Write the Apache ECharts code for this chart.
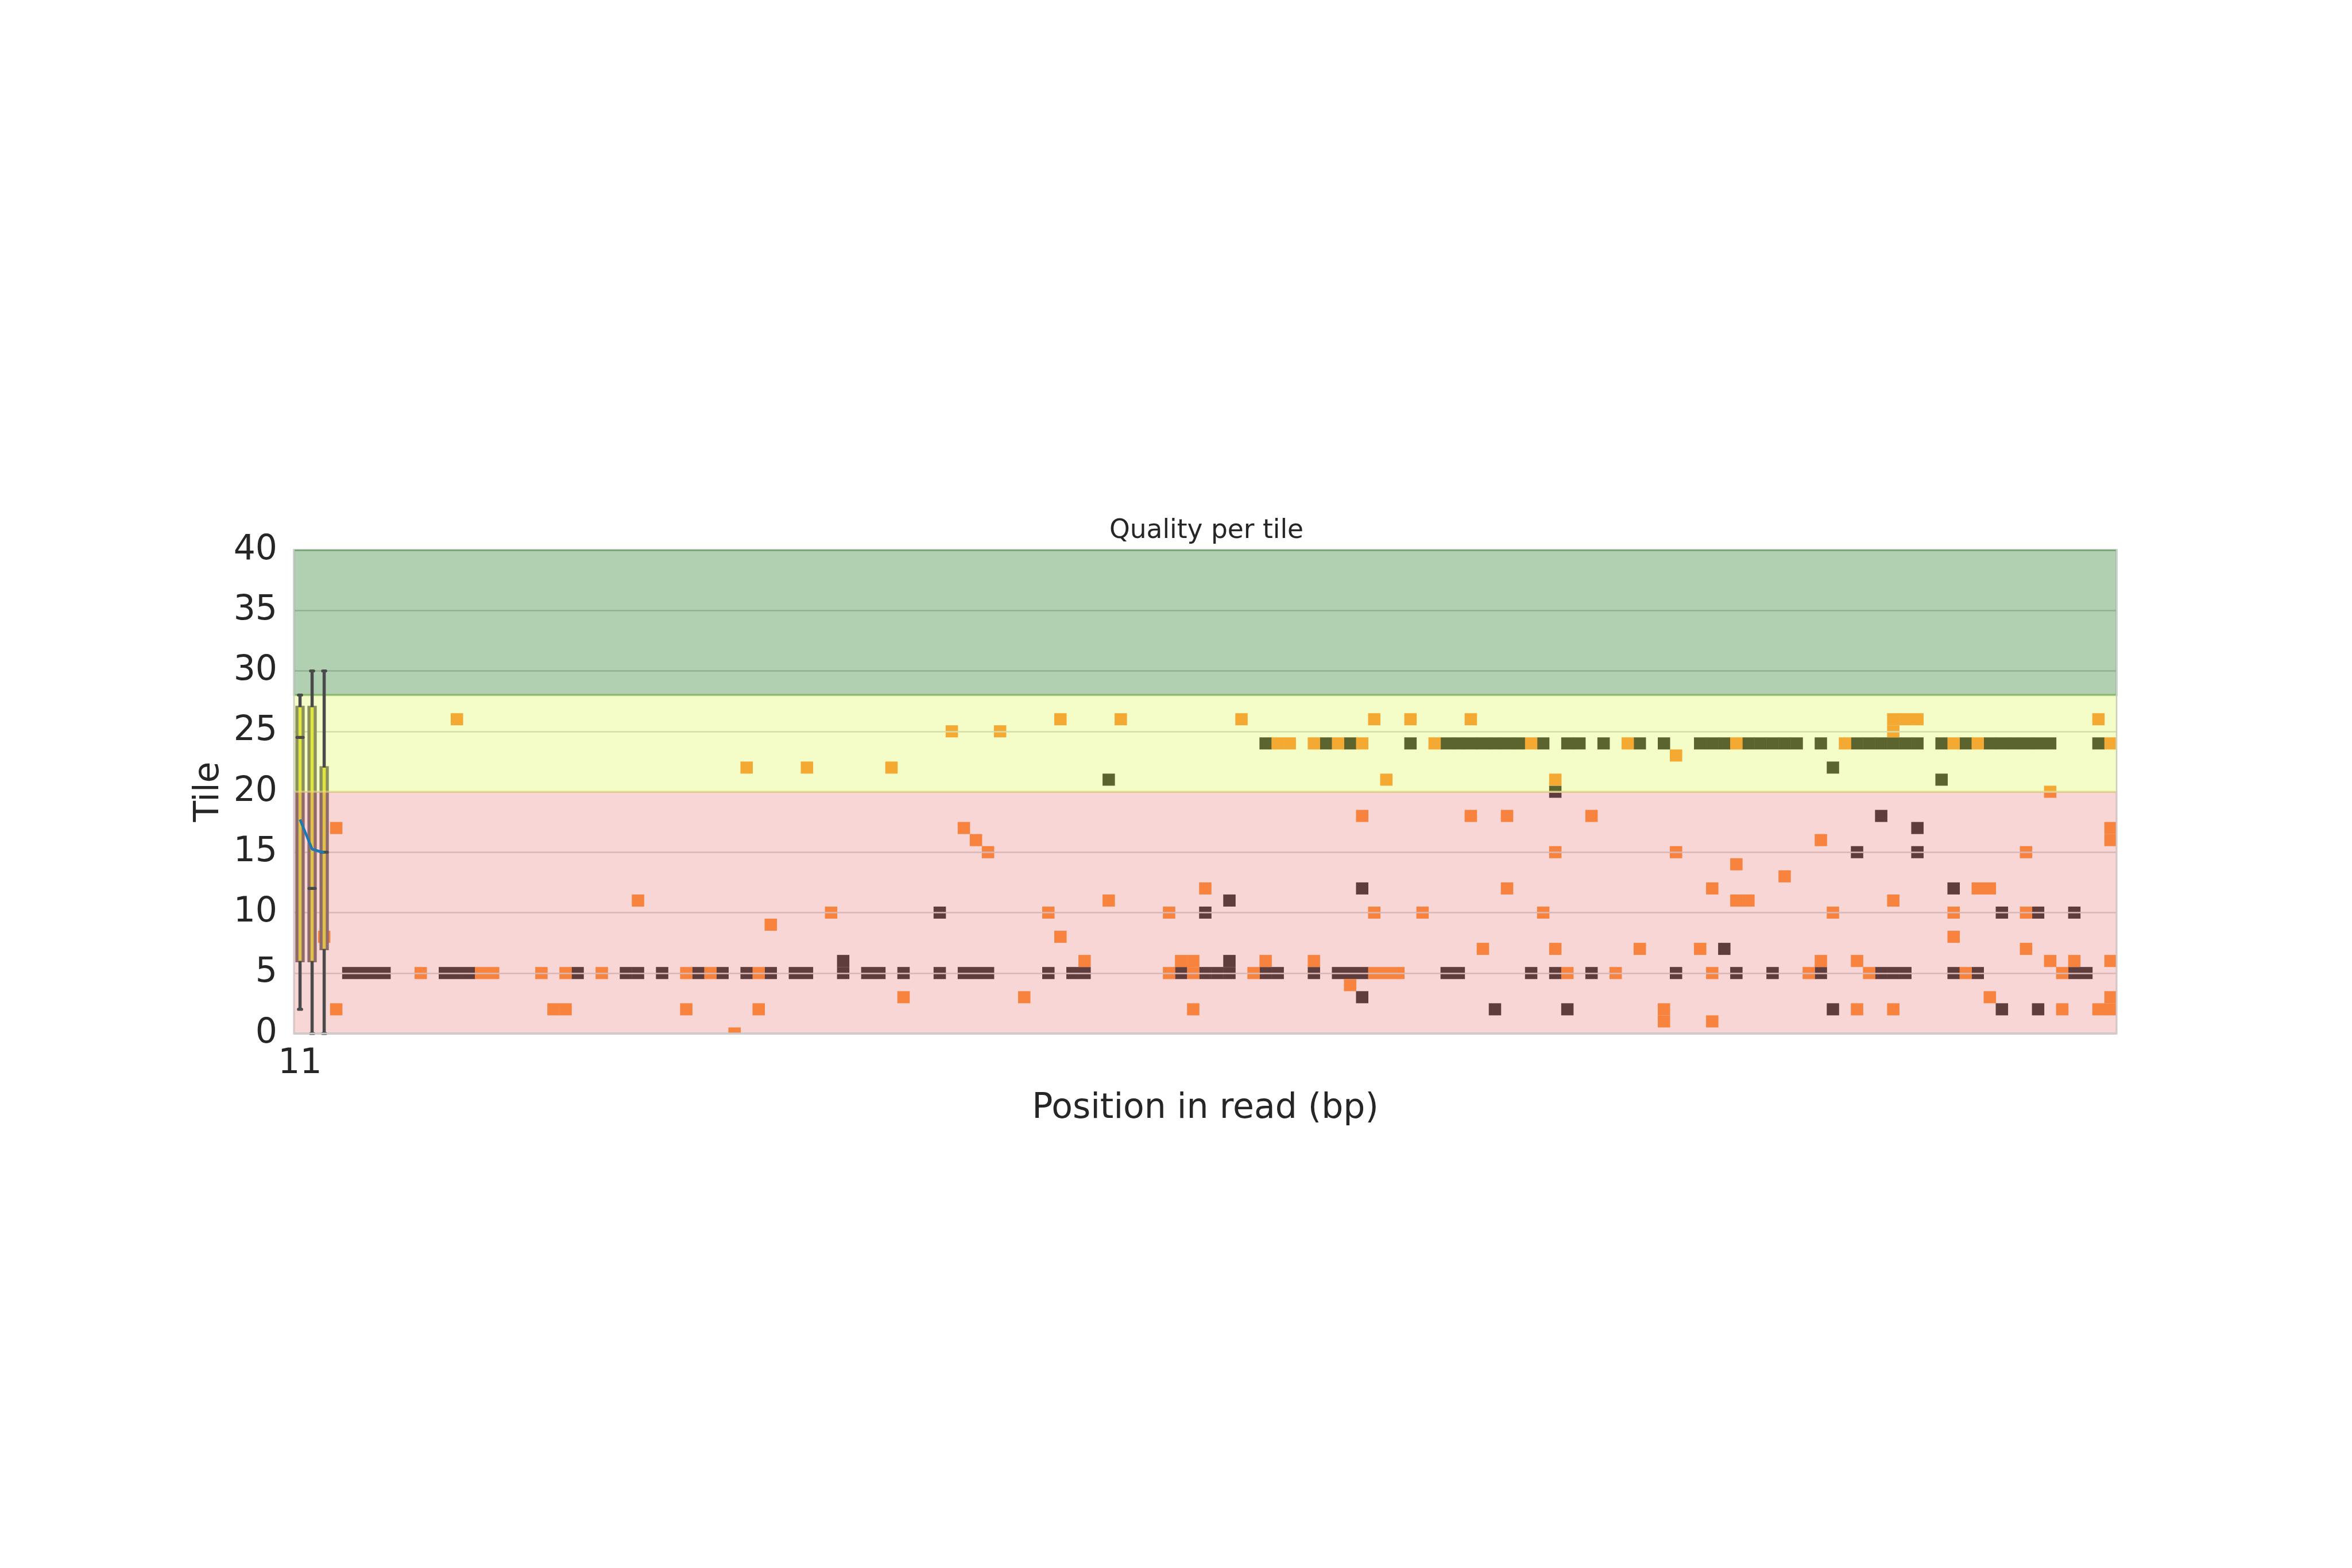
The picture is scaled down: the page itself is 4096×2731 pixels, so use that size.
<!DOCTYPE html>
<html><head><meta charset="utf-8">
<script src="https://cdn.jsdelivr.net/npm/echarts@6/dist/echarts.min.js"></script>
<style>html,body{margin:0;padding:0;background:#fff}#chart{width:4096px;height:2731px}</style>
</head><body><div id="chart"></div>
<script>
// ---------------- data ----------------
const nColumns = 151;                 // positions in read (categories)
const xTickIndices = [0];             // category index that carries a tick label
const xTickTexts = ['11'];            // tick label text
const yMin = 0, yMax = 40, yStep = 5; // tile axis

// box plots (first three positions)
const boxColumns = [0, 1, 2];
const boxLow    = [2, 0, 0];
const boxQ1     = [6, 6, 7];
const boxMedian = [24.5, 12, 15];
const boxQ3     = [27, 27, 22];
const boxHigh   = [28, 30, 30];
const meanQuality = [17.7, 15.25, 14.95];

// quality bands
const bandLow  = [0, 20, 28];
const bandHigh = [20, 28, 40];

// heat cells [column index, tile]
const darkCells = [
  [4,5],[5,5],[6,5],[7,5],[12,5],[13,5],[14,5],[23,5],[27,5],[28,5],[30,5],
  [33,5],[35,5],[37,5],[39,5],[41,5],[42,5],[45,5],[45,6],[47,5],[48,5],[50,5],[53,5],[53,10],
  [55,5],[56,5],[57,5],[62,5],[64,5],[65,5],[67,21],[73,5],[75,5],[75,10],
  [76,5],[77,5],[77,6],[77,11],[80,5],[81,5],[84,5],[86,5],[87,5],[88,5],[88,3],[88,12],
  [95,5],[96,5],[99,2],[102,5],[104,5],[104,20],[105,2],[107,5],[114,5],[118,7],
  [80,24],[85,24],[87,24],[92,24],[95,24],[96,24],[97,24],[98,24],[99,24],[100,24],[101,24],
  [103,24],[105,24],[106,24],[108,24],[111,24],[113,24],[116,24],[117,24],[118,24],
  [120,24],[121,24],[122,24],[123,24],[124,24],[126,24],[129,24],[130,24],[131,24],[132,24],
  [133,24],[134,24],[136,24],[138,24],[140,24],[141,24],[142,24],[143,24],[144,24],[145,24],[149,24],
  [127,22],[136,21],[131,18],[134,17],[129,15],[134,15],[137,12],[141,10],[144,10],[147,10],
  [119,5],[122,5],[126,5],[131,5],[132,5],[133,5],[137,5],[139,5],[147,5],[148,5],
  [127,2],[141,2],[144,2]
];
const orangeCells = [
  [13,26],[3,17],[28,11],[2,8],[10,5],[15,5],[16,5],[20,5],[22,5],[25,5],[3,2],[21,2],[22,2],
  [63,26],[68,26],[54,25],[58,25],[37,22],[42,22],[49,22],[55,17],[56,16],[57,15],[75,12],
  [67,11],[44,10],[62,10],[72,10],[39,9],[63,8],[65,6],[73,6],[74,6],[32,5],[34,5],[38,5],
  [72,5],[74,5],[50,3],[60,3],[32,2],[38,2],[74,2],[36,0],
  [78,26],[89,26],[92,26],[97,26],[81,24],[82,24],[84,24],[86,24],[88,24],[94,24],[102,24],
  [110,24],[114,23],[90,21],[104,21],[88,18],[97,18],[100,18],[107,18],[104,15],[114,15],
  [100,12],[117,12],[89,10],[93,10],[103,10],[98,7],[104,7],[111,7],[116,7],[80,6],[84,6],
  [79,5],[89,5],[90,5],[91,5],[105,5],[109,5],[117,5],[87,4],[113,2],[113,1],[117,1],
  [132,26],[133,26],[134,26],[149,26],[132,25],[119,24],[128,24],[137,24],[139,24],[150,24],
  [145,20],[150,17],[126,16],[150,16],[143,15],[119,14],[123,13],[139,12],[140,12],[119,11],
  [120,11],[132,11],[127,10],[137,10],[143,10],[137,8],[143,7],[126,6],[129,6],[145,6],
  [147,6],[150,6],[125,5],[130,5],[138,5],[146,5],[140,3],[150,3],[129,2],[132,2],[146,2],
  [149,2],[150,2]
];

// ---------------- derived ----------------
const positions = Array.from({length: nColumns}, (_, i) => String(i + 1));
const boxData = boxColumns.map((c, i) => [c, boxLow[i], boxQ1[i], boxMedian[i], boxQ3[i], boxHigh[i]]);
const bandData = bandLow.map((lo, i) => [i, lo, bandHigh[i]]);
const bandFill = ['rgba(235,152,150,0.4)', 'rgba(227,247,117,0.4)', 'rgba(60,135,60,0.4)'];

const FONT = 'DejaVu Sans';
const TXT = '#262626';
const GRAY = '#4a4a4a';

function cellRenderer(color) {
  return function (params, api) {
    const c = api.value(0), v = api.value(1);
    const p = api.coord([c, v + 0.5]);
    const s = api.size([1, 1]);
    const cs = params.coordSys;
    const r = echarts.graphic.clipRectByRect(
      {x: p[0] - s[0] / 2 - 0.25, y: p[1], width: s[0] + 0.5, height: s[1]},
      {x: cs.x, y: cs.y, width: cs.width, height: cs.height});
    if (!r) return;
    return {type: 'rect', shape: r, style: {fill: color}};
  };
}

function renderBand(params, api) {
  const i = api.value(0);
  const top = api.coord([0, api.value(2)])[1];
  const bot = api.coord([0, api.value(1)])[1];
  const cs = params.coordSys;
  return {type: 'rect', shape: {x: cs.x, y: top, width: cs.width, height: bot - top},
    style: {fill: bandFill[i], stroke: bandFill[i], lineWidth: 3.5}};
}

function renderBoxBody(params, api) {
  const c = api.value(0);
  const q1 = api.coord([c, api.value(2)]);
  const q3 = api.coord([c, api.value(4)]);
  const bw = api.size([1, 0])[0];
  const w = bw * 0.552, sw = bw * 0.262;
  return {type: 'group', children: [
    {type: 'rect', shape: {x: q1[0] - w / 2, y: q3[1], width: w, height: q1[1] - q3[1]},
      style: {fill: '#504b4e', stroke: '#504b4e', lineWidth: 4.6}},
    {type: 'rect', shape: {x: q1[0] - sw / 2, y: q3[1], width: sw, height: q1[1] - q3[1]},
      style: {fill: '#dcdc19'}}
  ]};
}

function renderWhiskers(params, api) {
  const c = api.value(0);
  const lo = api.coord([c, api.value(1)]);
  const q1 = api.coord([c, api.value(2)]);
  const md = api.coord([c, api.value(3)]);
  const q3 = api.coord([c, api.value(4)]);
  const hi = api.coord([c, api.value(5)]);
  const bw = api.size([1, 0])[0];
  const x = lo[0];
  const capH = bw * 0.131, medH = bw * 0.26;
  const wl = {stroke: GRAY, lineWidth: 5.5};
  const cap = {stroke: GRAY, lineWidth: 5.2, lineCap: 'round'};
  return {type: 'group', children: [
    {type: 'line', shape: {x1: x, y1: q3[1], x2: x, y2: hi[1]}, style: wl},
    {type: 'line', shape: {x1: x, y1: q1[1], x2: x, y2: lo[1]}, style: wl},
    {type: 'line', shape: {x1: x - capH, y1: hi[1], x2: x + capH, y2: hi[1]}, style: cap},
    {type: 'line', shape: {x1: x - capH, y1: lo[1], x2: x + capH, y2: lo[1]}, style: cap},
    {type: 'line', shape: {x1: x - medH, y1: md[1], x2: x + medH, y2: md[1]}, style: cap}
  ]};
}

const chart = echarts.init(document.getElementById('chart'), null, {renderer: 'canvas'});
const spine = {show: true, lineStyle: {color: '#cccccc', width: 2.4}};
const yBase = {type: 'value', min: yMin, max: yMax, interval: yStep};

chart.setOption({
  backgroundColor: '#ffffff',
  animation: false,
  title: {
    text: 'Quality per tile', left: 2096, textAlign: 'center', top: 897,
    textStyle: {fontFamily: FONT, fontSize: 45.5, fontWeight: 'normal', color: TXT, lineHeight: 45.5}
  },
  grid: {left: 512, right: 410, top: 958, bottom: 931, containLabel: false},
  xAxis: [
    {
      type: 'category', data: positions, boundaryGap: true, position: 'bottom', z: 10,
      axisLine: spine, axisTick: {show: false}, splitLine: {show: false},
      axisLabel: {
        interval: (idx) => xTickIndices.indexOf(idx) >= 0,
        formatter: (val, idx) => xTickTexts[xTickIndices.indexOf(idx)],
        fontFamily: FONT, fontSize: 60, color: TXT, margin: 23, lineHeight: 60
      },
      name: 'Position in read (bp)', nameLocation: 'middle', nameGap: 101,
      nameTextStyle: {fontFamily: FONT, fontSize: 60, color: TXT, lineHeight: 60}
    },
    {
      type: 'category', data: positions, boundaryGap: true, position: 'top', z: 10,
      axisLine: spine, axisTick: {show: false}, axisLabel: {show: false}, splitLine: {show: false}
    }
  ],
  yAxis: [
    Object.assign({}, yBase, {
      position: 'left', z: 10, axisLine: spine, axisTick: {show: false}, splitLine: {show: false},
      axisLabel: {fontFamily: FONT, fontSize: 60, color: TXT, margin: 29, padding: [10, 0, 0, 0]},
      name: 'Tile', nameLocation: 'middle', nameGap: 118, nameRotate: 90,
      nameTextStyle: {fontFamily: FONT, fontSize: 60, color: TXT, lineHeight: 60}
    }),
    Object.assign({}, yBase, {
      position: 'left', z: 2, axisLine: {show: false}, axisTick: {show: false}, axisLabel: {show: false},
      splitLine: {show: true, lineStyle: {color: '#cccccc', width: 2.5}}
    }),
    Object.assign({}, yBase, {
      position: 'right', z: 10, axisLine: spine, axisTick: {show: false}, axisLabel: {show: false},
      splitLine: {show: false}
    })
  ],
  series: [
    {type: 'custom', name: 'dark', xAxisIndex: 0, yAxisIndex: 0, z: 1, data: darkCells,
      renderItem: cellRenderer('#000000'), silent: true},
    {type: 'custom', name: 'orange', xAxisIndex: 0, yAxisIndex: 0, z: 1, data: orangeCells,
      renderItem: cellRenderer('#ff7505'), silent: true},
    {type: 'custom', name: 'boxes', xAxisIndex: 0, yAxisIndex: 0, z: 3, data: boxData,
      renderItem: renderBoxBody, silent: true},
    {type: 'custom', name: 'bands', xAxisIndex: 0, yAxisIndex: 0, z: 4, data: bandData,
      renderItem: renderBand, silent: true},
    {type: 'custom', name: 'whiskers', xAxisIndex: 0, yAxisIndex: 0, z: 6, data: boxData,
      renderItem: renderWhiskers, silent: true},
    {type: 'line', name: 'mean', xAxisIndex: 0, yAxisIndex: 0, z: 7, data: meanQuality,
      symbol: 'none', lineStyle: {color: '#1f77b4', width: 4.6}, silent: true}
  ]
});
</script></body></html>
